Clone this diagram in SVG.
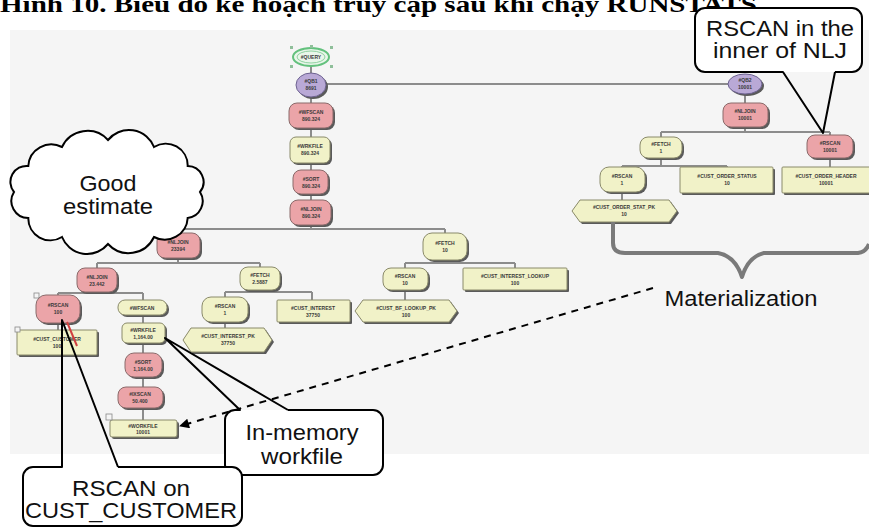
<svg xmlns="http://www.w3.org/2000/svg" width="869" height="527" viewBox="0 0 869 527">
<style>
.bg{fill:#f5f5f5}
.sh{fill:#5a5a5a}
.red{fill:#eba4a8;stroke:#8a6a6a;stroke-width:1}
.yel{fill:#f1f2c8;stroke:#8a8a6a;stroke-width:1}
.pur{fill:#b9a9d6;stroke:#6d6290;stroke-width:1}
.nt{font-family:"Liberation Sans",Arial,sans-serif;font-size:5px;font-weight:bold;fill:#3a3a3a;text-anchor:middle}
.edge{stroke:#8c8c8c;stroke-width:2;fill:none}
.co{fill:#ffffff;stroke:none}
.col{fill:none;stroke:#000;stroke-width:2;stroke-linejoin:round}
.big{font-family:"Liberation Sans",Arial,sans-serif;font-size:22px;fill:#111;text-anchor:middle}
.title{font-family:"Liberation Serif","Times New Roman",serif;font-size:24px;font-weight:bold;fill:#000}
</style>
<defs>
<marker id="ah2" viewBox="0 0 10 10" refX="9" refY="5" markerWidth="14" markerHeight="10" orient="auto" markerUnits="userSpaceOnUse">
<path d="M0,0 L10,5 L0,10 z" fill="#000"/>
</marker>
</defs>

<rect class="bg" x="10" y="30" width="859" height="424"/>
<text class="title" x="0" y="12" textLength="757" lengthAdjust="spacingAndGlyphs">Hình 10. Biểu đồ kế hoạch truy cập sau khi chạy RUNSTATS</text>

<g id="connectors">
<path class="edge" d="M311,65 V73 M311,97 V103 M311,128 V137 M311,163 V170 M311,194 V200 M311,225 V229"/>
<path class="edge" stroke="#7a7a7a" d="M326,84 H728"/>
<path class="edge" d="M178,229 H445 M178,229 V233 M445,229 V233"/>
<path class="edge" d="M178,258 V263 M97,263 H260 M97,263 V268 M260,263 V267"/>
<path class="edge" d="M445,260 V263 M405,263 H515 M405,263 V268 M515,263 V268"/>
<path class="edge" d="M97,292 V293 M58,293 H143 M58,293 V295 M143,293 V300"/>
<path class="edge" d="M260,290 V292 M225,292 H312 M225,292 V297 M312,292 V300"/>
<path class="edge" d="M405,290 V300"/>
<path class="edge" d="M58,323 V330 M143,315 V323 M143,343 V353 M143,377 V387 M143,408 V420 M225,322 V328"/>
<path class="edge" d="M745,94 V103 M745,127 V132 M661,132 H830 M661,132 V137 M830,132 V135"/>
<path class="edge" d="M661,158 V166 M622,166 H727 M622,166 V167 M727,166 V167 M830,158 V167 M622,192 V200"/>
</g>

<g id="n-query">
<ellipse cx="311" cy="57" rx="18" ry="9" fill="#e9f6ea" stroke="#63c17d" stroke-width="2"/>
<ellipse cx="311" cy="57" rx="14" ry="6" fill="none" stroke="#8fd2a0" stroke-width="1"/>
<g fill="#8fbf9a"><rect x="290" y="46" width="3" height="3"/><rect x="330" y="46" width="3" height="3"/><rect x="290" y="65" width="3" height="3"/><rect x="330" y="65" width="3" height="3"/><rect x="310" y="45" width="3" height="3"/></g>
<text class="nt" x="311" y="59">#QUERY</text>
</g>
<g id="n-qb1">
<ellipse class="sh" cx="313" cy="87" rx="15" ry="12"/>
<ellipse class="pur" cx="311" cy="85" rx="15" ry="12"/>
<text class="nt" x="311" y="83">#QB1</text><text class="nt" x="311" y="90">8691</text>
</g>
<g id="n-wfscan1">
<rect class="sh" x="291" y="105" width="44" height="25" rx="8"/>
<rect class="red" x="289" y="103" width="44" height="25" rx="8"/>
<text class="nt" x="311" y="114">#WFSCAN</text><text class="nt" x="311" y="121">890.324</text>
</g>
<g id="n-wrkfile1">
<rect class="sh" x="292" y="139" width="40" height="26" rx="6"/>
<rect class="yel" x="290" y="137" width="40" height="26" rx="6"/>
<text class="nt" x="310" y="148">#WRKFILE</text><text class="nt" x="310" y="155">890.324</text>
</g>
<g id="n-sort1">
<rect class="sh" x="295" y="172" width="35" height="24" rx="8"/>
<rect class="red" x="293" y="170" width="35" height="24" rx="8"/>
<text class="nt" x="311" y="181">#SORT</text><text class="nt" x="311" y="188">890.324</text>
</g>
<g id="n-nljoin1">
<rect class="sh" x="292" y="202" width="41" height="25" rx="8"/>
<rect class="red" x="290" y="200" width="41" height="25" rx="8"/>
<text class="nt" x="311" y="211">#NLJOIN</text><text class="nt" x="311" y="218">890.324</text>
</g>

<g id="n-nljoin2">
<rect class="sh" x="159" y="235" width="43" height="25" rx="8"/>
<rect class="red" x="157" y="233" width="43" height="25" rx="8"/>
<text class="nt" x="178" y="244">#NLJOIN</text><text class="nt" x="178" y="251">23394</text>
</g>
<g id="n-fetch1">
<rect class="sh" x="425" y="235" width="44" height="27" rx="9"/>
<rect class="yel" x="423" y="233" width="44" height="27" rx="9"/>
<text class="nt" x="445" y="245">#FETCH</text><text class="nt" x="445" y="252">10</text>
</g>
<g id="n-nljoin3">
<rect class="sh" x="79" y="270" width="40" height="24" rx="8"/>
<rect class="red" x="77" y="268" width="40" height="24" rx="8"/>
<text class="nt" x="97" y="279">#NLJOIN</text><text class="nt" x="97" y="286">23.442</text>
</g>
<g id="n-fetch2">
<rect class="sh" x="242" y="269" width="40" height="23" rx="8"/>
<rect class="yel" x="240" y="267" width="40" height="23" rx="8"/>
<text class="nt" x="260" y="277">#FETCH</text><text class="nt" x="260" y="284">2.5887</text>
</g>
<g id="n-rscan1">
<rect class="sh" x="385" y="270" width="45" height="22" rx="8"/>
<rect class="yel" x="383" y="268" width="45" height="22" rx="8"/>
<text class="nt" x="405" y="278">#RSCAN</text><text class="nt" x="405" y="285">10</text>
</g>
<g id="n-lookup">
<rect class="sh" x="465" y="270" width="104" height="22" rx="1"/>
<rect class="yel" x="463" y="268" width="104" height="22" rx="1"/>
<text class="nt" x="515" y="278">#CUST_INTEREST_LOOKUP</text><text class="nt" x="515" y="285">100</text>
</g>
<g id="n-rscan2">
<rect class="sh" x="38" y="297" width="44" height="28" rx="10"/>
<rect class="red" x="36" y="295" width="44" height="28" rx="10"/>
<rect x="34" y="293" width="5" height="5" fill="#f5f5f5" stroke="#888" stroke-width="0.8"/>
<text class="nt" x="58" y="307">#RSCAN</text><text class="nt" x="58" y="314">100</text>
</g>
<g id="n-wfscan2">
<rect class="sh" x="120" y="302" width="49" height="15" rx="7"/>
<rect class="yel" x="118" y="300" width="49" height="15" rx="7"/>
<text class="nt" x="142" y="309.5">#WFSCAN</text>
</g>
<g id="n-rscan3">
<rect class="sh" x="204" y="299" width="46" height="25" rx="9"/>
<rect class="yel" x="202" y="297" width="46" height="25" rx="9"/>
<text class="nt" x="225" y="308">#RSCAN</text><text class="nt" x="225" y="315">1</text>
</g>
<g id="n-interest">
<rect class="sh" x="279" y="302" width="73" height="22" rx="1"/>
<rect class="yel" x="277" y="300" width="73" height="22" rx="1"/>
<text class="nt" x="313" y="310">#CUST_INTEREST</text><text class="nt" x="313" y="317">37750</text>
</g>
<g id="n-bfpk">
<polygon class="sh" points="365,302 451,302 459,313 451,324 365,324 357,313"/>
<polygon class="yel" points="363,300 449,300 457,311 449,322 363,322 355,311"/>
<text class="nt" x="406" y="310">#CUST_BF_LOOKUP_PK</text><text class="nt" x="406" y="317">100</text>
</g>
<g id="n-customer">
<rect class="sh" x="19" y="332" width="80" height="25" rx="1"/>
<rect class="yel" x="17" y="330" width="80" height="25" rx="1"/>
<rect x="15" y="327" width="5" height="5" fill="#f5f5f5" stroke="#888" stroke-width="0.8"/>
<text class="nt" x="57" y="341">#CUST_CUSTOMER</text><text class="nt" x="57" y="348">100</text>
</g>
<g id="n-wrkfile2">
<rect class="sh" x="124" y="325" width="43" height="20" rx="5"/>
<rect class="yel" x="122" y="323" width="43" height="20" rx="5"/>
<text class="nt" x="143" y="332">#WRKFILE</text><text class="nt" x="143" y="339">1,164.00</text>
</g>
<g id="n-intpk">
<polygon class="sh" points="193,330 266,330 274,342 266,354 193,354 185,342"/>
<polygon class="yel" points="191,328 264,328 272,340 264,352 191,352 183,340"/>
<text class="nt" x="228" y="338">#CUST_INTEREST_PK</text><text class="nt" x="228" y="345">37750</text>
</g>
<g id="n-sort2">
<rect class="sh" x="127" y="355" width="37" height="24" rx="9"/>
<rect class="red" x="125" y="353" width="37" height="24" rx="9"/>
<text class="nt" x="143" y="364">#SORT</text><text class="nt" x="143" y="371">1,164.00</text>
</g>
<g id="n-ixscan">
<rect class="sh" x="120" y="389" width="45" height="21" rx="8"/>
<rect class="red" x="118" y="387" width="45" height="21" rx="8"/>
<text class="nt" x="140" y="396">#IXSCAN</text><text class="nt" x="140" y="403">50.400</text>
</g>
<g id="n-workfile">
<rect class="sh" x="112" y="422" width="67" height="17" rx="2"/>
<rect class="yel" x="110" y="420" width="67" height="17" rx="2"/>
<rect x="106" y="414" width="6" height="6" fill="#f5f5f5" stroke="#888" stroke-width="0.8"/>
<text class="nt" x="143" y="427.5">#WORKFILE</text><text class="nt" x="143" y="434">10001</text>
</g>

<g id="n-qb2">
<ellipse class="sh" cx="747" cy="86" rx="17" ry="10"/>
<ellipse class="pur" cx="745" cy="84" rx="17" ry="10"/>
<text class="nt" x="745" y="82">#QB2</text><text class="nt" x="745" y="89">10001</text>
</g>
<g id="n-nljoin4">
<rect class="sh" x="725" y="105" width="45" height="24" rx="8"/>
<rect class="red" x="723" y="103" width="45" height="24" rx="8"/>
<text class="nt" x="745" y="113">#NLJOIN</text><text class="nt" x="745" y="120">10001</text>
</g>
<g id="n-fetch3">
<rect class="sh" x="642" y="139" width="42" height="21" rx="8"/>
<rect class="yel" x="640" y="137" width="42" height="21" rx="8"/>
<text class="nt" x="661" y="146">#FETCH</text><text class="nt" x="661" y="153">1</text>
</g>
<g id="n-rscan4">
<rect class="sh" x="809" y="137" width="46" height="23" rx="8"/>
<rect class="red" x="807" y="135" width="46" height="23" rx="8"/>
<text class="nt" x="830" y="145">#RSCAN</text><text class="nt" x="830" y="152">10001</text>
</g>
<g id="n-rscan5">
<rect class="sh" x="602" y="169" width="45" height="25" rx="9"/>
<rect class="yel" x="600" y="167" width="45" height="25" rx="9"/>
<text class="nt" x="622" y="178">#RSCAN</text><text class="nt" x="622" y="185">1</text>
</g>
<g id="n-status">
<rect class="sh" x="682" y="169" width="93" height="26" rx="1"/>
<rect class="yel" x="680" y="167" width="93" height="26" rx="1"/>
<text class="nt" x="727" y="178">#CUST_ORDER_STATUS</text><text class="nt" x="727" y="185">10</text>
</g>
<g id="n-header">
<rect class="sh" x="784" y="169" width="90" height="26" rx="1"/>
<rect class="yel" x="782" y="167" width="90" height="26" rx="1"/>
<text class="nt" x="826" y="178">#CUST_ORDER_HEADER</text><text class="nt" x="826" y="185">10001</text>
</g>
<g id="n-statpk">
<polygon class="sh" points="582,202 671,202 679,213 671,224 582,224 574,213"/>
<polygon class="yel" points="580,200 669,200 677,211 669,222 580,222 572,211"/>
<text class="nt" x="624" y="209">#CUST_ORDER_STAT_PK</text><text class="nt" x="624" y="216">10</text>
</g>

<g id="brace">
<path d="M613,222 V243 Q613,253 625,253 H718 Q735,256 742,277 Q748,257 764,253 H858 Q866,252 869,244" fill="none" stroke="#7a7a7a" stroke-width="4" stroke-linejoin="round"/>
<text class="big" x="741" y="306" textLength="153" lengthAdjust="spacingAndGlyphs">Materialization</text>
</g>

<g id="materialization-arrow">
<line x1="653" y1="288" x2="180" y2="426" stroke="#000" stroke-width="2" stroke-dasharray="7 6" marker-end="url(#ah2)"/>
</g>

<g id="cloud-good-estimate">
<path d="M200,192 A17,17 0 0 1 187.7,218 A23,23 0 0 1 154,237 A28,28 0 0 1 108,244 A27,27 0 0 1 62,237 A22,22 0 0 1 28.3,218 A17,17 0 0 1 14,192 A16,16 0 0 1 28.3,166 A23,23 0 0 1 62,147 A28,28 0 0 1 108,140 A27,27 0 0 1 154,147 A22,22 0 0 1 187.7,166 A16,16 0 0 1 200,192 Z" fill="#fff" stroke="#000" stroke-width="2"/>
<text class="big" x="108" y="191" textLength="57" lengthAdjust="spacingAndGlyphs">Good</text>
<text class="big" x="108" y="214" textLength="90" lengthAdjust="spacingAndGlyphs">estimate</text>
</g>

<g id="callout-nlj">
<rect class="co" x="695" y="8" width="167" height="64" rx="10"/>
<path class="col" d="M835,72 H852 A10,10 0 0 0 862,62 V18 A10,10 0 0 0 852,8 H705 A10,10 0 0 0 695,18 V62 A10,10 0 0 0 705,72 H783 L823,133 L835,72"/>
<text class="big" x="780" y="36" textLength="148" lengthAdjust="spacingAndGlyphs">RSCAN in the</text>
<text class="big" x="780" y="58" textLength="134" lengthAdjust="spacingAndGlyphs">inner of NLJ</text>
</g>

<g id="callout-workfile">
<rect class="co" x="225" y="410" width="158" height="65" rx="10"/>
<path class="col" d="M288,410 H373 A10,10 0 0 1 383,420 V465 A10,10 0 0 1 373,475 H235 A10,10 0 0 1 225,465 V420 A10,10 0 0 1 235,410 H240 L165,338 L288,410"/>
<text class="big" x="302" y="440" textLength="113" lengthAdjust="spacingAndGlyphs">In-memory</text>
<text class="big" x="302" y="464" textLength="82" lengthAdjust="spacingAndGlyphs">workfile</text>
</g>

<g id="callout-rscan">
<line x1="67" y1="322" x2="77" y2="346" stroke="#d04040" stroke-width="2"/>
<rect class="co" x="23" y="467" width="219" height="59" rx="10"/>
<path class="col" d="M118,467 H232 A10,10 0 0 1 242,477 V516 A10,10 0 0 1 232,526 H33 A10,10 0 0 1 23,516 V477 A10,10 0 0 1 33,467 H62 V320 L118,467"/>
<text class="big" x="131" y="496" textLength="118" lengthAdjust="spacingAndGlyphs">RSCAN on</text>
<text class="big" x="131" y="518" textLength="212" lengthAdjust="spacingAndGlyphs">CUST_CUSTOMER</text>
</g>
</svg>
